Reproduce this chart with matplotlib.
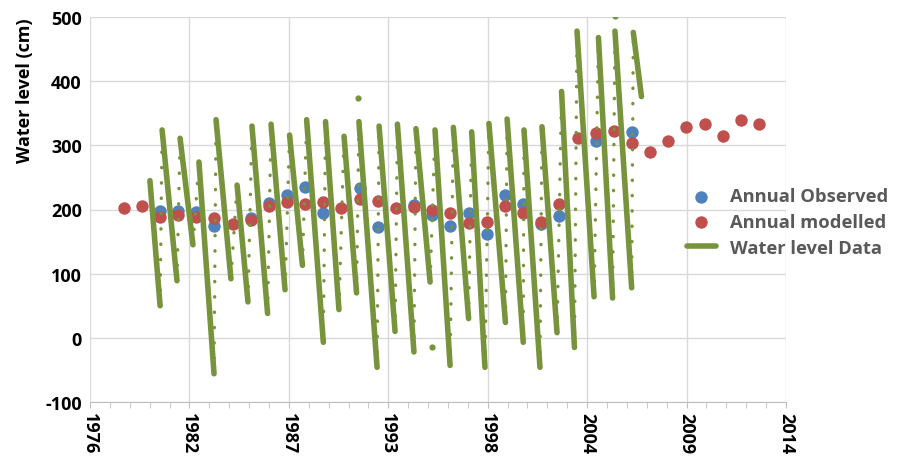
import numpy as np
import matplotlib
matplotlib.use("Agg")
import matplotlib.pyplot as plt
from matplotlib.ticker import FixedLocator, NullFormatter

plt.rcParams['font.family'] = ['Open Sans', 'DejaVu Sans']

# Annual values (plotted at mid-year)
model_years = list(range(1978, 2014))
model_level = [202, 205, 188, 191, 189, 187, 178, 183, 206, 212, 208, 211,
               203, 216, 213, 202, 204, 200, 195, 179, 181, 206, 195, 181,
               209, 312, 319, 322, 303, 289, 306, 328, 333, 314, 339, 334]

obs_years = list(range(1980, 2007))
obs_level = [198, 198, 196, 175, np.nan, 187, 210, 222, 235, 195,
             np.nan, 233, 173, np.nan, 207, 191, 174, 195, 162, 222,
             209, 178, 190, np.nan, 307, np.nan, 321]

# Water level record: each cycle = high point, then drawdown to a low point
high_t = [1979.95, 1980.62, 1981.61, 1982.65, 1983.59, 1984.75, 1985.57,
          1986.62, 1987.64, 1988.58, 1989.62, 1990.64, 1991.46, 1992.57,
          1993.58, 1994.60, 1995.65, 1996.66, 1997.67, 1998.62, 1999.62,
          2000.55, 2001.54, 2002.62, 2003.47, 2004.65, 2005.56, 2006.57]
high_v = [245, 324, 311, 274, 340, 238, 330, 333, 316, 340, 337, 314, 337,
          330, 333, 326, 324, 328, 321, 334, 341, 324, 329, 384, 478, 468,
          478, 476]
low_t = [1980.51, 1981.44, 1982.32, 1983.48, 1984.41, 1985.35, 1986.43,
         1987.39, 1988.35, 1989.50, 1990.36, 1991.33, 1992.46, 1993.45,
         1994.49, 1995.38, 1996.48, 1997.50, 1998.40, 1999.53, 2000.51,
         2001.43, 2002.37, 2003.33, 2004.41, 2005.43, 2006.48, 2007.02]
low_v = [50, 89, 145, -56, 92, 56, 38, 75, 113, -7, 44, 70, -46, 10, -22,
         87, -43, 30, -46, 24, -7, -46, 8, -15, 64, 62, 78, 376]

# stray readings
stray_t = [1991.41, 1995.48, 2005.56]
stray_v = [374, -15, 501]

x_labels = ['1976', '1982', '1987', '1993', '1998', '2004', '2009', '2014']
y_ticks = [-100, 0, 100, 200, 300, 400, 500]

blue = '#4F81BD'
red = '#C0504D'
green = '#77933C'
grid = '#D9D9D9'

fig = plt.figure(figsize=(9.02, 4.6), dpi=100)
ax = fig.add_axes([90 / 902, 1 - 403 / 460, 696 / 902, 385 / 460])

# date axis with a 2000-day major unit
x0 = 1976.65
step = 2000 / 365.25
major = [x0 + i * step for i in range(len(x_labels))]
minor = [x0 + i * step / 5 for i in range(5 * (len(x_labels) - 1) + 1)]

ax.scatter(np.array(obs_years) + 0.5, obs_level, s=80, color=blue,
           zorder=3, label='Annual Observed', linewidths=0)
ax.scatter(np.array(model_years) + 0.5, model_level, s=80, color=red,
           zorder=4, label='Annual modelled', linewidths=0)

for i in range(len(high_t)):
    ax.plot([high_t[i], low_t[i]], [high_v[i], low_v[i]], color=green,
            lw=4, solid_capstyle='round', zorder=5,
            label='Water level Data' if i == 0 else None)
    if i + 1 < len(high_t):
        ax.plot([low_t[i], high_t[i + 1]], [low_v[i], high_v[i + 1]],
                color=green, lw=2.4, linestyle=(0, (0.1, 4.5)),
                dash_capstyle='round', zorder=5)
ax.scatter(stray_t, stray_v, s=12, color=green, zorder=5)

ax.set_xlim(major[0], major[-1])
ax.set_ylim(-100, 500)
ax.xaxis.set_major_locator(FixedLocator(major))
ax.xaxis.set_minor_locator(FixedLocator(minor))
ax.set_xticklabels(x_labels, rotation=-90, fontsize=13, fontweight='bold')
ax.xaxis.set_minor_formatter(NullFormatter())
ax.set_yticks(y_ticks)
ax.set_yticklabels([str(v) for v in y_ticks], fontsize=13,
                   fontweight='bold')

ax.tick_params(axis='x', which='both', length=4, color='#BFBFBF', pad=3)
ax.tick_params(axis='y', length=0, pad=6)
ax.grid(True, which='major', color=grid, lw=1)
ax.set_axisbelow(True)
for s in ['top', 'right', 'left']:
    ax.spines[s].set_visible(False)
ax.spines['bottom'].set_color('#BFBFBF')

ax.set_ylabel('Water level (cm)', fontsize=13, fontweight='bold',
              loc='top', labelpad=8)

leg = ax.legend(loc='upper left', bbox_to_anchor=(670 / 902, 1 - 172 / 460),
                bbox_transform=fig.transFigure, frameon=False,
                prop={'size': 13.2, 'weight': 'bold'}, handlelength=1.6,
                handletextpad=0.8, labelspacing=0.42)
for t in leg.get_texts():
    t.set_color('#595959')

fig.savefig('out.png', dpi=100)
